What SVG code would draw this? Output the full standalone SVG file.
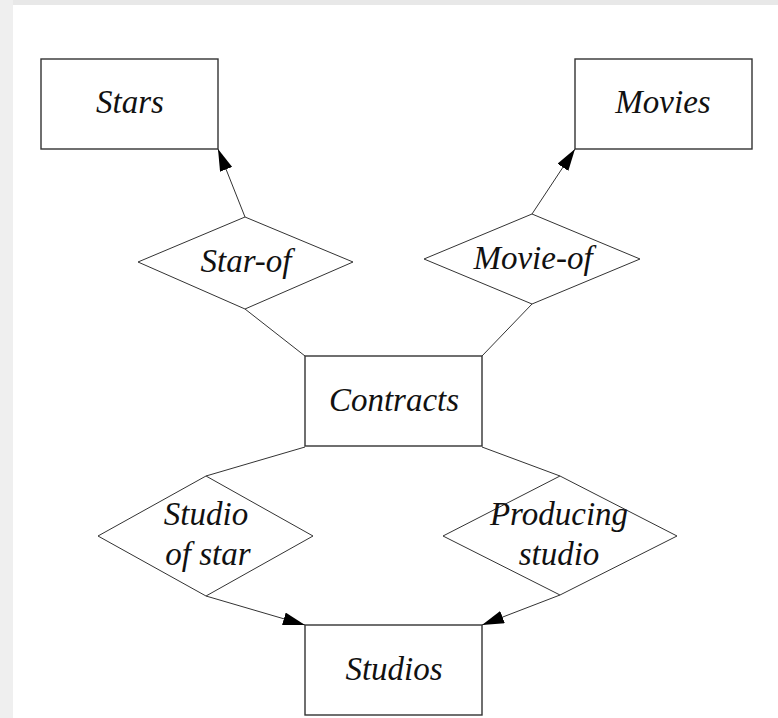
<svg xmlns="http://www.w3.org/2000/svg" width="778" height="718" viewBox="0 0 778 718">
<style>
.box{fill:#ffffff;stroke:#333333;stroke-width:1.4}
.dia{fill:#ffffff;stroke:#333333;stroke-width:1}
.edge{fill:none;stroke:#333333;stroke-width:1}
.lbl{font-family:"Liberation Serif","Times New Roman",serif;font-style:italic;font-size:33px;fill:#111111;text-anchor:middle}
</style>
<defs>
<marker id="arr" viewBox="0 0 22 13" refX="22" refY="6.5" markerWidth="22" markerHeight="13" markerUnits="userSpaceOnUse" orient="auto">
<path d="M0,0 L22,6.5 L0,13 Z" fill="#000000"/>
</marker>
</defs>
<rect x="0" y="0" width="778" height="718" fill="#ffffff"/>
<rect x="0" y="0" width="778" height="5" fill="#e8e8e8"/>
<rect x="0" y="0" width="13" height="718" fill="#efefef"/>
<g id="connectors">
<line class="edge" x1="245" y1="217" x2="218" y2="149" marker-end="url(#arr)"/>
<line class="edge" x1="532" y1="214" x2="575" y2="149" marker-end="url(#arr)"/>
<line class="edge" x1="245" y1="309" x2="305" y2="356"/>
<line class="edge" x1="532" y1="304" x2="482" y2="356"/>
<line class="edge" x1="305" y1="447" x2="206" y2="476"/>
<line class="edge" x1="482" y1="447" x2="560" y2="476"/>
<line class="edge" x1="206" y1="596" x2="305" y2="625" marker-end="url(#arr)"/>
<line class="edge" x1="560" y1="595" x2="482" y2="625" marker-end="url(#arr)"/>
</g>
<g id="stars">
<rect class="box" x="41" y="59" width="177" height="90"/>
<text class="lbl" x="130" y="113">Stars</text>
</g>
<g id="movies">
<rect class="box" x="575" y="59" width="177" height="90"/>
<text class="lbl" x="663" y="113">Movies</text>
</g>
<g id="star-of">
<polygon class="dia" points="245,217 353,262 245,309 138,262"/>
<text class="lbl" x="246" y="272">Star-of</text>
</g>
<g id="movie-of">
<polygon class="dia" points="532,214 640,259 532,304 424,259"/>
<text class="lbl" x="533" y="269">Movie-of</text>
</g>
<g id="contracts">
<rect class="box" x="305" y="356" width="177" height="90"/>
<text class="lbl" x="394" y="411">Contracts</text>
</g>
<g id="studio-of-star">
<polygon class="dia" points="206,476 313,536 206,596 98,536"/>
<text class="lbl" x="206" y="525">Studio</text>
<text class="lbl" x="208" y="565">of star</text>
</g>
<g id="producing-studio">
<polygon class="dia" points="560,476 677,536 560,595 443,536"/>
<text class="lbl" x="559" y="525">Producing</text>
<text class="lbl" x="559" y="565">studio</text>
</g>
<g id="studios">
<rect class="box" x="305" y="625" width="177" height="90"/>
<text class="lbl" x="394" y="680">Studios</text>
</g>
</svg>
